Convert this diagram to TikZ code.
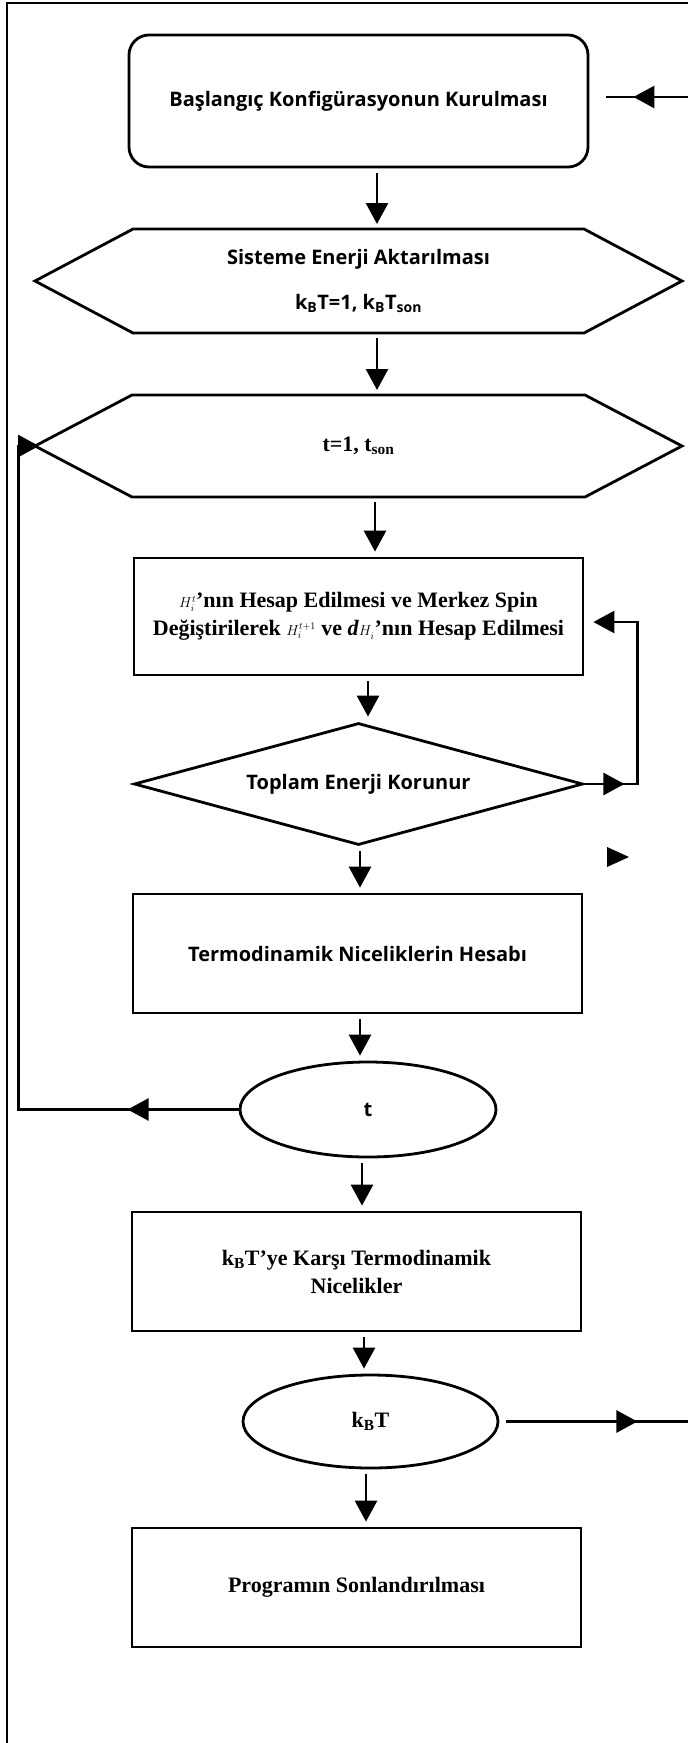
\documentclass[tikz,border=0pt]{standalone}
\usepackage{fontspec}
\setmainfont{Liberation Serif}
\newfontfamily\uisans{Open Sans}
\usetikzlibrary{arrows.meta,shapes.geometric}

\newcommand\hterm[1]{{\fontsize{14}{14}\selectfont$H^{#1}_{i}$}}
\newcommand\hexoutline[2]{\draw[line width=2.8pt,line join=miter] (#1.west) -- ([xshift=#2]#1.north west) -- ([xshift=-#2]#1.north east) -- (#1.east) -- ([xshift=-#2]#1.south east) -- ([xshift=#2]#1.south west) -- cycle;}

\tikzset{
  sansfont/.style={font=\uisans\bfseries\fontsize{20}{26}\selectfont},
  seriffont/.style={font=\bfseries\fontsize{22}{28}\selectfont},
  procbox/.style={draw,line width=2.8pt,minimum width=449pt,minimum height=119pt,align=center,inner sep=0pt},
  hexnode/.style={minimum width=647pt,minimum height=104pt,align=center,inner sep=0pt,outer sep=0pt},
  loopnode/.style={draw,ellipse,line width=2.8pt,minimum width=256pt,minimum height=95pt,inner sep=0pt},
  line/.style={line width=2.8pt},
  arr/.style={line width=2.8pt,-{Triangle[length=21pt,width=22pt]}},
  varr/.style={arr,shorten <=5pt,shorten >=5pt}
}

\begin{document}
\begin{tikzpicture}[x=1pt,y=-1pt]
  \useasboundingbox (0,0) rectangle (688,1743);
  \draw[line width=2pt] (6.6,1750) -- (6.6,3.3) -- (695,3.3);

  \node[draw,line width=2.8pt,rounded corners=20pt,minimum width=459pt,minimum height=132pt,sansfont] (start) at (358.5,101) {Başlangıç Konfigürasyonun Kurulması};
  \node[hexnode,sansfont] (sys) at (358.5,281) {Sisteme Enerji Aktarılması\\[19pt] k\textsubscript{B}T=1, k\textsubscript{B}T\textsubscript{son}};
  \hexoutline{sys}{98pt}
  \node[hexnode,minimum height=102pt,seriffont] (tloop) at (358.5,446) {t=1, t\textsubscript{son}};
  \hexoutline{tloop}{97pt}
  \node[procbox,minimum height=117pt,seriffont] (hcalc) at (358.5,616.5) {\hterm{t}’nın Hesap Edilmesi ve Merkez Spin\\ Değiştirilerek \hterm{t+1} ve \textit{d}\hterm{}’nın Hesap Edilmesi};
  \node[draw,diamond,aspect=3.7,line width=2.8pt,minimum width=449pt,minimum height=122pt,inner sep=0pt,sansfont] (energy) at (358.5,784) {Toplam Enerji Korunur};
  \node[procbox,sansfont] (thermo) at (357.5,953.5) {Termodinamik Niceliklerin Hesabı};
  \node[loopnode,sansfont] (tend) at (368,1109.5) {t};
  \node[procbox,seriffont] (versus) at (356.5,1271.5) {k\textsubscript{B}T’ye Karşı Termodinamik\\ Nicelikler};
  \node[loopnode,minimum width=255pt,minimum height=93pt,seriffont] (kbt) at (370.5,1421.5) {k\textsubscript{B}T};
  \node[procbox,seriffont] (finish) at (356.5,1587.5) {Programın Sonlandırılması};

  \draw[varr] ([xshift=18.5pt]start.south) -- ([xshift=18.5pt]start.south |- sys.north);
  \draw[varr] ([xshift=18.5pt]sys.south) -- ([xshift=18.5pt]sys.south |- tloop.north);
  \draw[varr] ([xshift=16.5pt]tloop.south) -- ([xshift=16.5pt]tloop.south |- hcalc.north);
  \draw[varr] ([xshift=9.5pt]hcalc.south) -- ([xshift=9.5pt]hcalc.south |- energy.north);
  \draw[varr] ([xshift=1.5pt]energy.south) -- ([xshift=1.5pt]energy.south |- thermo.north);
  \draw[varr] ([xshift=2.5pt]thermo.south) -- ([xshift=2.5pt]thermo.south |- tend.north);
  \draw[varr] ([xshift=-6pt]tend.south) -- ([xshift=-6pt]tend.south |- versus.north);
  \draw[varr] ([xshift=7.5pt]versus.south) -- ([xshift=7.5pt]versus.south |- kbt.north);
  \draw[varr] ([xshift=-4.5pt]kbt.south) -- ([xshift=-4.5pt]kbt.south |- finish.north);

  \draw[arr,shorten >=9pt] (energy.east) -- ++(53,0) |- ([yshift=-5.5pt]hcalc.east);
  \draw[arr] (energy.east) -- ++(40,0);

  \draw[arr] (tend.west) -- ++(-220,0) |- ([xshift=4pt]tloop.west);
  \draw[arr] (tend.west) -- ++(-111,0);

  \coordinate (topin) at (690,97);
  \draw[line] (topin) -- ([xshift=17pt,yshift=4pt]start.east);
  \draw[arr] (topin) -- ([xshift=44pt,yshift=4pt]start.east);

  \coordinate (kbtout) at (690,1421.5);
  \draw[line] ([xshift=7pt]kbt.east) -- (kbtout);
  \draw[arr] ([xshift=7pt]kbt.east) -- ++(131,0);

  \fill (607,847) -- (629,857) -- (607,867) -- cycle;
\end{tikzpicture}
\end{document}
